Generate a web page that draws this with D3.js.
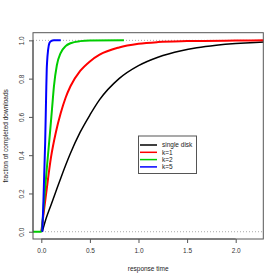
<!DOCTYPE html>
<html><head><meta charset="utf-8">
<script src="https://cdn.jsdelivr.net/npm/d3@7"></script>
<style>
html,body{margin:0;padding:0;background:#fff;}
svg{display:block;}
text{font-family:"Liberation Sans",Arial,Helvetica,sans-serif;}
</style></head>
<body><svg id="c" width="280" height="280"></svg>
<script>
// ---- data ----
const seriesNames = ["single disk", "k=1", "k=2", "k=5"];
const seriesColors = ["#000000", "#ff0000", "#00cd00", "#0000ff"];
const singleT = [0.01, 0.05, 0.1, 0.15, 0.2, 0.3, 0.4, 0.5, 0.6, 0.8, 1.0, 1.2, 1.44, 1.6, 1.8, 2.0, 2.2, 2.3];
const singleV = [0, 0.07, 0.14, 0.21, 0.28, 0.41, 0.52, 0.61, 0.69, 0.80, 0.868, 0.912, 0.946, 0.961, 0.974, 0.983, 0.989, 0.991];
const k1T = [0, 0.02, 0.05, 0.1, 0.15, 0.2, 0.25, 0.3, 0.4, 0.5, 0.6, 0.8, 1.0, 1.2, 1.5, 2.0, 2.3];
const k1V = [0, 0.08, 0.2, 0.39, 0.52, 0.62, 0.70, 0.76, 0.84, 0.89, 0.925, 0.963, 0.982, 0.991, 0.996, 0.999, 1.0];
const k2T = [-0.1, 0, 0.03, 0.06, 0.09, 0.11, 0.13, 0.16, 0.2, 0.25, 0.3, 0.4, 0.5, 0.85];
const k2V = [0, 0, 0.17, 0.35, 0.52, 0.64, 0.76, 0.87, 0.935, 0.97, 0.985, 0.996, 0.999, 1.0];
const k5T = [0.01, 0.02, 0.03, 0.04, 0.05, 0.056, 0.06, 0.07, 0.083, 0.1, 0.13, 0.2];
const k5V = [0, 0.13, 0.3, 0.47, 0.72, 0.85, 0.89, 0.95, 0.985, 0.996, 1.0, 1.0];
const xTicks = [0, 0.5, 1.0, 1.5, 2.0];
const yTicks = [0, 0.2, 0.4, 0.6, 0.8, 1.0];
const refLines = [0, 1];

const series = [
  {name: seriesNames[0], color: seriesColors[0], t: singleT, v: singleV, w: 1.5},
  {name: seriesNames[1], color: seriesColors[1], t: k1T, v: k1V, w: 2},
  {name: seriesNames[2], color: seriesColors[2], t: k2T, v: k2V, w: 2},
  {name: seriesNames[3], color: seriesColors[3], t: k5T, v: k5V, w: 2}
];

const L = 33, R = 263.3, T = 32.7, B = 239;
const x = d3.scaleLinear().domain([-0.0854, 2.284]).range([L, R]);
const y = d3.scaleLinear().domain([-0.038, 1.04]).range([B, T]);
const svg = d3.select("#c");
const FS = 6.5;

svg.append("clipPath").attr("id","clip").append("rect")
  .attr("x", L).attr("y", T).attr("width", R - L).attr("height", B - T);

// reference dotted lines
svg.append("g").attr("clip-path","url(#clip)").selectAll("line").data(refLines).join("line")
  .attr("x1", L).attr("x2", R).attr("y1", d => y(d)).attr("y2", d => y(d))
  .attr("stroke", "#aaaaaa").attr("stroke-width", 1).attr("stroke-dasharray", "1,2");

// curves
const line = d3.line().x(d => x(d[0])).y(d => y(d[1])).curve(d3.curveMonotoneX);
const g = svg.append("g").attr("clip-path","url(#clip)");
series.forEach(s => {
  const pts = s.t.map((t, i) => [t, s.v[i]]);
  g.append("path").attr("d", line(pts)).attr("fill","none")
    .attr("stroke", s.color).attr("stroke-width", s.w).attr("stroke-linejoin","round");
});

// box
svg.append("rect").attr("x", L).attr("y", T).attr("width", R - L).attr("height", B - T)
  .attr("fill","none").attr("stroke","#555").attr("stroke-width",1);

// axes
const xa = svg.append("g").attr("transform", `translate(0,${B})`)
  .call(d3.axisBottom(x).tickValues(xTicks).tickFormat(d3.format(".1f")).tickSize(4).tickPadding(5));
const ya = svg.append("g").attr("transform", `translate(${L},0)`)
  .call(d3.axisLeft(y).tickValues(yTicks).tickFormat(d3.format(".1f")).tickSize(4).tickPadding(5));
[xa, ya].forEach(a => {
  a.select(".domain").attr("stroke","#555");
  a.selectAll(".tick line").attr("stroke","#555");
  a.selectAll("text").attr("font-size", FS).attr("fill","#333")
    .style("font-family",'"Liberation Sans",Arial,Helvetica,sans-serif');
});
xa.select(".domain").attr("d", `M${x(0)},0H${x(2)}`);
ya.select(".domain").attr("d", `M0,${y(0)}V${y(1)}`);
ya.selectAll(".tick text").attr("text-anchor","middle").attr("dy", null)
  .attr("x", 0).attr("transform", "translate(-12,0) rotate(-90)").attr("dominant-baseline","central");

// axis titles
svg.append("text").attr("x", (L + R) / 2).attr("y", 271).attr("text-anchor","middle")
  .attr("font-size", FS).attr("fill","#222").text("response time");
svg.append("text").attr("transform", `translate(8,${(T + B) / 2}) rotate(-90)`).attr("text-anchor","middle")
  .attr("font-size", FS).attr("fill","#222").text("fraction of completed downloads");

// legend
const lg = svg.append("g");
lg.append("rect").attr("x", 138.5).attr("y", 136).attr("width", 58).attr("height", 37.5)
  .attr("fill","#fff").attr("stroke","#555").attr("stroke-width",1);
const rowsY = [145, 152.3, 159.6, 166.9];
series.forEach((s, i) => {
  lg.append("line").attr("x1", 140).attr("x2", 157).attr("y1", rowsY[i]).attr("y2", rowsY[i])
    .attr("stroke", s.color).attr("stroke-width", 1.5);
  lg.append("text").attr("x", 162).attr("y", rowsY[i]).attr("dy","0.35em")
    .attr("font-size", FS).attr("fill","#222").text(s.name);
});
</script></body></html>
